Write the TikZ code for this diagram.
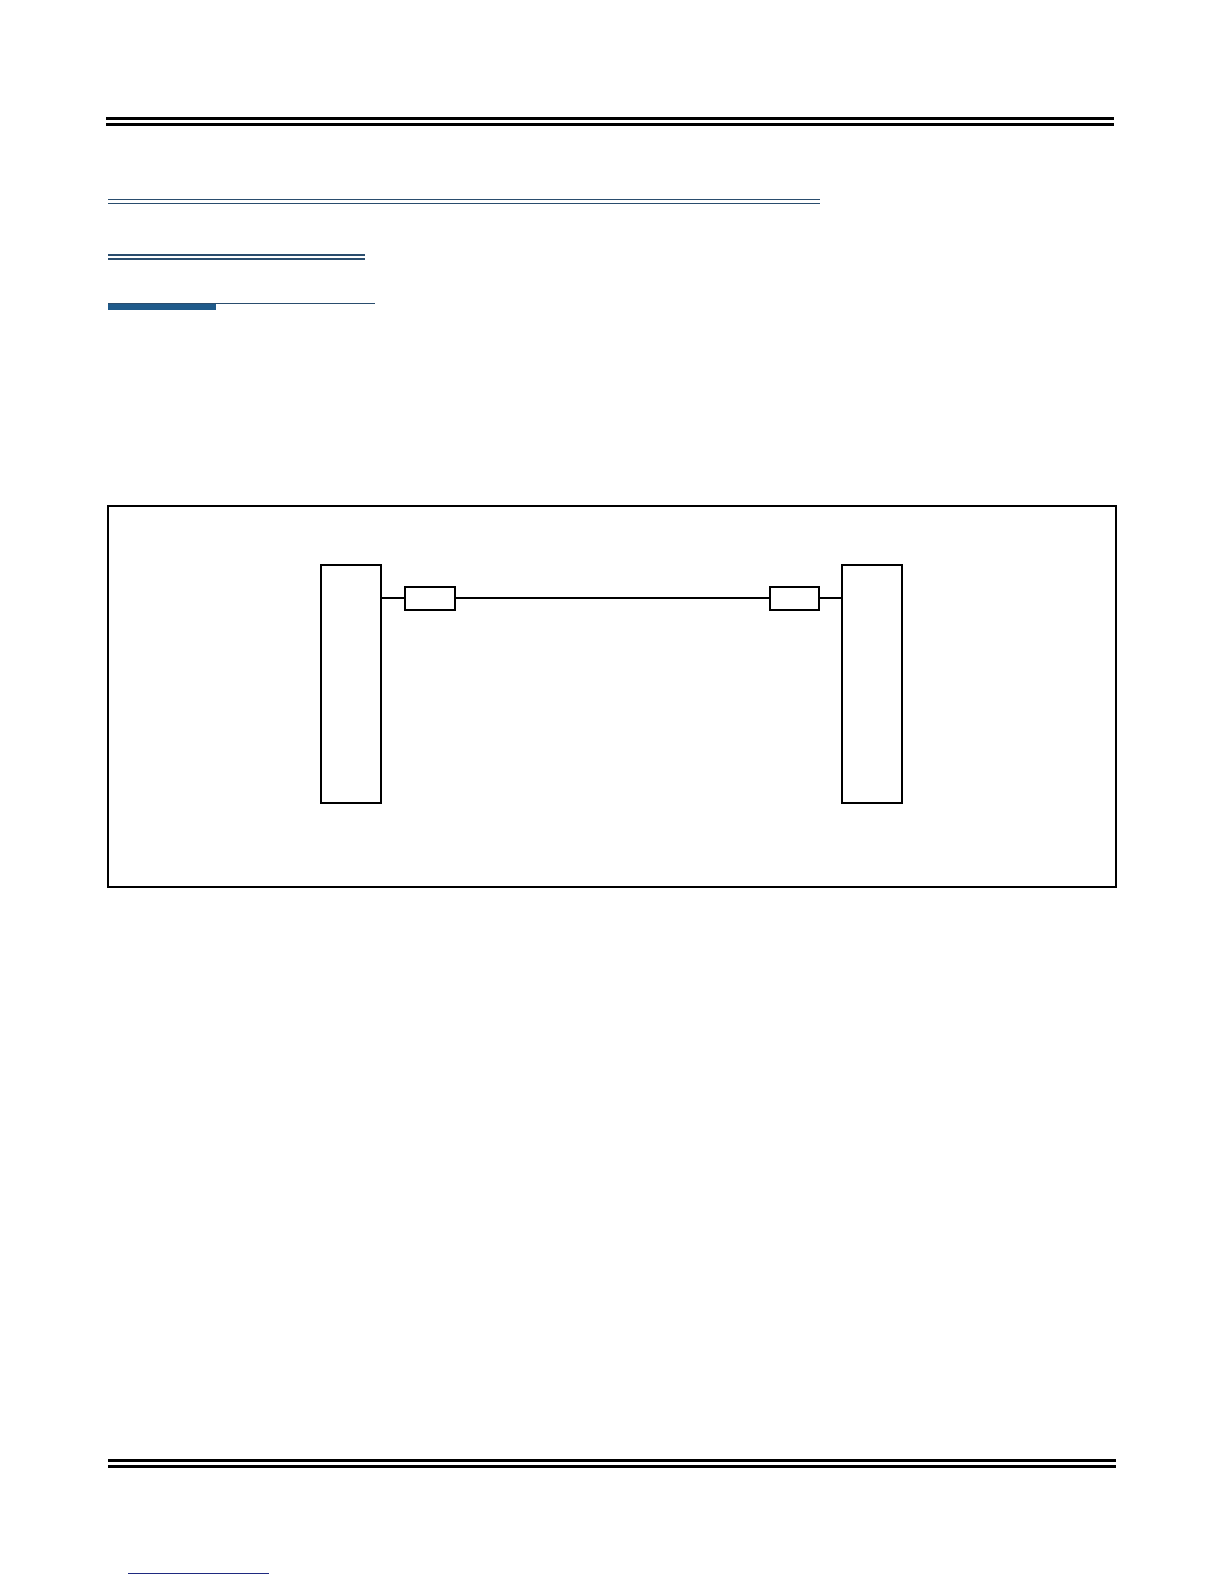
\documentclass[tikz,border=0pt]{standalone}
\usepackage{tikz}
\usetikzlibrary{positioning,calc}
\definecolor{rulecol}{HTML}{2A4D6E}
\definecolor{barcol}{HTML}{1F5A8A}
\definecolor{navy}{HTML}{1F2A80}

\begin{document}
\begin{tikzpicture}[x=0.505bp,y=-0.505bp,
        unit/.style={draw,line width=1bp,minimum width=29.8bp,minimum height=119bp,inner sep=0pt},
        port/.style={draw,line width=1bp,minimum width=24.8bp,minimum height=11.6bp,inner sep=0pt},
        link/.style={line width=1bp},
        rule/.style={line width=1.4bp},
        thin rule/.style={draw=rulecol,line width=0.75bp}]
        \useasboundingbox (0,0) rectangle (1212,1568.3);

        % page rules
        \draw[rule] (105,117.5) -- (1103,117.5);
        \draw[rule] (105,123.5) -- (1103,123.5);
        \draw[thin rule] (107,197.5) -- (812,197.5);
        \draw[thin rule] (107,201.5) -- (812,201.5);
        \draw[thin rule] (107,252.5) -- (361,252.5);
        \draw[thin rule] (107,256.5) -- (361,256.5);
        \fill[barcol] (107,300) rectangle (214,307);
        \draw[thin rule] (107,300.5) -- (371,300.5);
        \draw[rule] (107,1446) -- (1105,1446);
        \draw[rule] (107,1452) -- (1105,1452);
        \draw[draw=navy,line width=0.6bp] (127,1558) -- (266,1558);

        % frame
        \draw[line width=1bp] (107,501) rectangle (1105,878);

        \node[unit] (lunit) at (347.5,677) {};
        \node[unit] (runit) at (863.5,677) {};
        \node[port] (lport) at (426,592.5) {};
        \node[port] (rport) at (786.5,592.5) {};

        \draw[link] (lport.west -| lunit.east) -- (lport.west);
        \draw[link] (lport.east) -- (rport.west);
        \draw[link] (rport.east) -- (rport.east -| runit.west);
    \end{tikzpicture}
\end{document}
